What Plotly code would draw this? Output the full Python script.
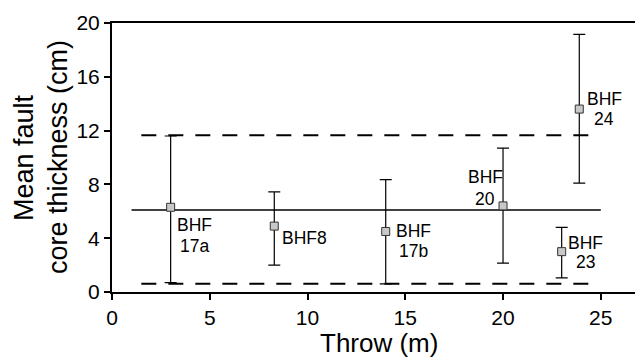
import plotly.graph_objects as go

# data
label_top = ["BHF", "BHF8", "BHF", "BHF", "BHF", "BHF"]
label_bot = ["17a", "", "17b", "20", "23", "24"]
throw = [3.0, 8.3, 14.0, 20.0, 23.0, 23.9]
thick = [6.3, 4.9, 4.5, 6.4, 3.0, 13.6]
err_hi = [11.6, 7.45, 8.35, 10.7, 4.8, 19.15]
err_lo = [0.7, 2.0, 0.6, 2.15, 1.05, 8.1]
mean_x = [1, 25]
mean_y = [6.1, 6.1]
band_x = [1.5, 24.5]
band_hi = [11.65, 11.65]
band_lo = [0.62, 0.62]
x_ticks = [0, 5, 10, 15, 20, 25]
y_ticks = [0, 4, 8, 12, 16, 20]
x_title = "Throw (m)"
y_title = ["Mean fault", "core thickness (cm)"]

FONT = "Arial, Liberation Sans, sans-serif"

fig = go.Figure()
fig.add_trace(go.Scatter(x=mean_x, y=mean_y, mode="lines",
                         line=dict(color="black", width=1.6), showlegend=False))
for yy in (band_hi, band_lo):
    fig.add_trace(go.Scatter(x=band_x, y=yy, mode="lines",
                             line=dict(color="black", width=2, dash="15px,12px"),
                             showlegend=False))

plus = [h - v for h, v in zip(err_hi, thick)]
minus = [v - l for l, v in zip(err_lo, thick)]
fig.add_trace(go.Scatter(
    x=throw, y=thick, mode="markers",
    marker=dict(symbol="square", size=8, color="#c8c8c8",
                line=dict(color="#333333", width=1)),
    error_y=dict(type="data", symmetric=False, array=plus, arrayminus=minus,
                 color="black", thickness=1.2, width=6),
    showlegend=False))

# label placement, pixel offsets from each marker: (dx, anchor, top-line dy, bottom-line dy)
offs = [(24, "center", 18, 38.5), (5.5, "left", 11.5, 0), (28, "center", 0, 19.5),
        (-18, "center", -28.7, -7.2), (24, "center", -8.7, 10.8), (25, "center", -10.3, 9.5)]
for (dx, al, d1, d2), t1, t2, xv, yv in zip(offs, label_top, label_bot, throw, thick):
    for txt, dy in ((t1, d1), (t2, d2)):
        if not txt:
            continue
        fig.add_annotation(x=xv, y=yv, xref="x", yref="y", text=txt, showarrow=False,
                           xanchor=al, yanchor="middle", xshift=dx, yshift=-dy,
                           font=dict(family=FONT, size=17.5, color="black"))

# axis titles
fig.add_annotation(x=0.5, y=0, xref="paper", yref="paper", text=x_title, showarrow=False,
                   xanchor="center", yanchor="middle", xshift=5.5, yshift=-50.5,
                   borderpad=0,
                   font=dict(family=FONT, size=26, color="black"))
for txt, xs in zip(y_title, (-88.5, -54.5)):
    fig.add_annotation(x=0, y=0.5, xref="paper", yref="paper", text=txt, showarrow=False,
                       textangle=-90, xanchor="center", yanchor="middle", xshift=xs,
                       borderpad=0,
                       font=dict(family=FONT, size=27, color="black"))

fig.update_layout(
    width=635, height=359,
    margin=dict(l=112, r=0, t=23, b=67),
    paper_bgcolor="white", plot_bgcolor="white",
    font=dict(family=FONT, color="black"),
)
fig.update_xaxes(range=[0, 26.75], tickvals=x_ticks, ticks="outside", ticklen=6,
                 tickwidth=1.5, tickcolor="black", showline=True, linewidth=2,
                 linecolor="black", mirror=True, showgrid=False, zeroline=False,
                 tickfont=dict(size=21))
fig.update_yaxes(range=[0, 20], tickvals=y_ticks, ticks="outside", ticklen=6,
                 tickwidth=1.5, tickcolor="black", showline=True, linewidth=2,
                 linecolor="black", showgrid=False, zeroline=False,
                 tickfont=dict(size=21))

fig.write_html("out.html")
